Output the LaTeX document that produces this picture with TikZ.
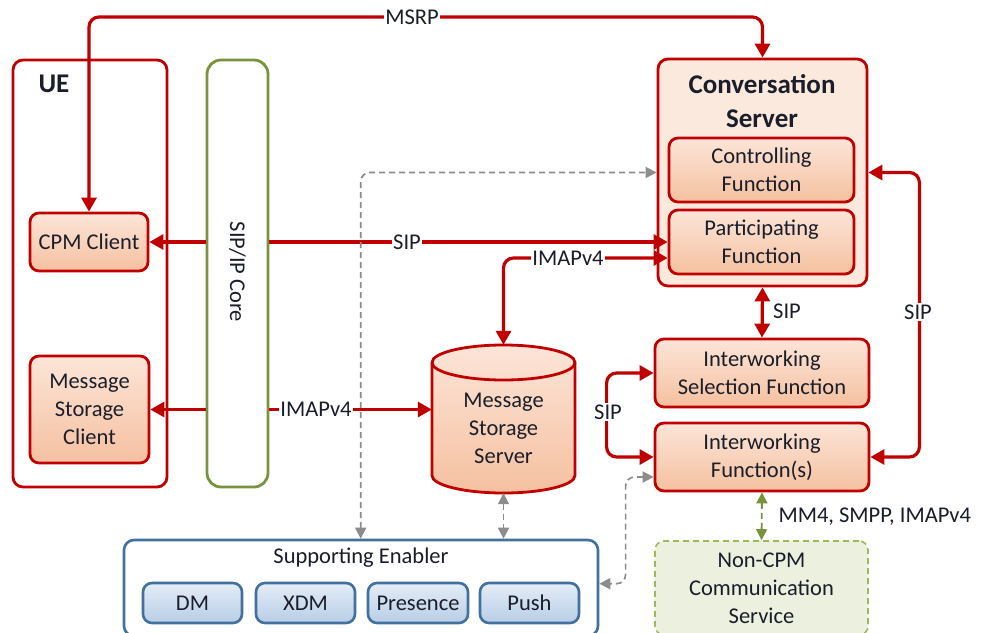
\documentclass[tikz,border=0pt]{standalone}
\usepackage{fontspec}
\setmainfont{Carlito}
\usetikzlibrary{arrows.meta,calc}
\definecolor{cred}{HTML}{C00000}
\definecolor{olivec}{HTML}{77933C}
\definecolor{bluec}{HTML}{41719C}
\definecolor{txt}{HTML}{1A1E2A}
\definecolor{pkTop}{HTML}{FCE5D8}
\definecolor{pkBot}{HTML}{F5C0A0}
\definecolor{convf}{HTML}{FCE9DE}
\definecolor{blTop}{HTML}{E4EDF7}
\definecolor{blBot}{HTML}{B8CDE6}
\definecolor{grnf}{HTML}{EBF1DE}
\definecolor{grnb}{HTML}{9BBB59}
\definecolor{gline}{HTML}{8C8C8C}
\begin{document}
\begin{tikzpicture}[x=1pt,y=-1pt,font=\fontsize{22.5}{28}\selectfont,text=txt,
  redbox/.style={draw=cred,line width=2.8pt,rounded corners=9pt,top color=pkTop,bottom color=pkBot,align=center,inner sep=0pt},
  bluebox/.style={draw=bluec,line width=2.6pt,rounded corners=9pt,top color=blTop,bottom color=blBot,align=center,inner sep=0pt,minimum height=40pt},
  rline/.style={draw=cred,line width=3.2pt,rounded corners=10pt},
  rtip/.tip={Triangle[length=14pt,width=15pt]},
  gtip/.tip={Triangle[length=11pt,width=11pt]},
  gdash/.style={draw=gline,line width=1.7pt,dash pattern=on 6pt off 4pt,rounded corners=9pt},
  grdash/.style={draw=olivec,line width=1.8pt,dash pattern=on 6pt off 4pt},
  lbl/.style={fill=white,inner sep=1.5pt},
  bold/.style={font=\bfseries\fontsize{27}{34}\selectfont,align=center}]
\useasboundingbox (0,0) rectangle (990,632);
\fill[white] (0,0) rectangle (990,632);

% UE
\node[draw=cred,line width=2.8pt,rounded corners=10pt,fill=white,minimum width=154pt,minimum height=427pt,inner sep=0pt] (ue) at (90,273.5) {};
\node[bold,anchor=center] (uelbl) at (54,84) {UE};
\node[redbox,minimum width=118pt,minimum height=58pt] (cpm) at (89,242) {CPM Client};
\node[redbox,minimum width=119pt,minimum height=107pt] (msc) at (89.5,409.5) {Message\\Storage\\Client};

% SIP/IP core
\node[draw=olivec,line width=2.8pt,rounded corners=14pt,fill=white,minimum width=61pt,minimum height=427pt,inner sep=0pt] (core) at (237.5,273.5) {};
\node[rotate=-90] (coretxt) at (237.5,272) {SIP/IP Core};

% Conversation server
\node[draw=cred,line width=2.8pt,rounded corners=10pt,fill=convf,minimum width=209pt,minimum height=227pt,inner sep=0pt] (conv) at (762.5,172.5) {};
\node[bold] (convtitle) at (762,101) {Conversation\\Server};
\node[redbox,minimum width=185pt,minimum height=64pt] (ctrl) at (761.5,170) {Controlling\\Function};
\node[redbox,minimum width=185pt,minimum height=64pt] (part) at (761.5,242) {Participating\\Function};

% Interworking
\node[redbox,minimum width=214pt,minimum height=68pt] (isf) at (762,373) {Interworking\\Selection Function};
\node[redbox,minimum width=214pt,minimum height=68pt] (iwf) at (762,457) {Interworking\\Function(s)};
\node[draw=grnb,line width=1.6pt,dash pattern=on 6pt off 4pt,rounded corners=9pt,fill=grnf,minimum width=213pt,minimum height=94pt,inner sep=0pt,align=center] (noncpm) at (761.5,588) {Non-CPM\\Communication\\Service};

% Message storage server (cylinder)
\node[minimum width=143pt,minimum height=148pt,inner sep=0pt] (mss) at (503.5,419) {};
\path[top color=pkTop,bottom color=pkBot] (432,362.5) -- (432,475.5) arc[start angle=180,end angle=360,x radius=71.5pt,y radius=17.5pt] -- (575,362.5) arc[start angle=0,end angle=180,x radius=71.5pt,y radius=17.5pt] -- cycle;
\draw[cred,line width=2.8pt] (432,362.5) -- (432,475.5) arc[start angle=180,end angle=360,x radius=71.5pt,y radius=17.5pt] -- (575,362.5) arc[start angle=0,end angle=180,x radius=71.5pt,y radius=17.5pt] -- cycle;
\draw[cred,line width=2.8pt] (432,362.5) arc[start angle=180,end angle=360,x radius=71.5pt,y radius=17.5pt];
\node[align=center] (msstxt) at (503.5,428) {Message\\Storage\\Server};

% Supporting enabler
\node[draw=bluec,line width=2.6pt,rounded corners=10pt,fill=white,minimum width=474pt,minimum height=96pt,inner sep=0pt] (se) at (361,588) {};
\node (setxt) at (361,558) {Supporting Enabler};
\node[bluebox,minimum width=99pt] (dm) at (192.5,603) {DM};
\node[bluebox,minimum width=99pt] (xdm) at (305.5,603) {XDM};
\node[bluebox,minimum width=100pt] (pres) at (418,603) {Presence};
\node[bluebox,minimum width=99pt] (push) at (529.5,603) {Push};

% Red connectors
\draw[rline,{rtip}-{rtip}] (cpm.north) -- (cpm.north |- 0,17) -- (conv.north |- 0,17) -- (conv.north);
\node[lbl] (msrp) at (412,17) {MSRP};
\draw[rline,-{rtip}] (core.east |- part.west) -- (part.west);
\draw[rline,-{rtip}] (core.west |- cpm.east) -- (cpm.east);
\node[lbl] (sip1) at (407,242) {SIP};
\draw[rline,-{rtip}] (core.east |- msc.east) -- (mss.west |- msc.east);
\draw[rline,-{rtip}] (core.west |- msc.east) -- (msc.east);
\node[lbl] (imap1) at (316,409) {IMAPv4};
\draw[rline,{rtip}-{rtip}] (mss.north) |- ($(part.west)+(0,16)$);
\node[lbl] (imap2) at (568,258) {IMAPv4};
\draw[rline,{rtip}-{rtip}] (conv.south) -- (isf.north);
\node[anchor=west,inner sep=1pt] (sip2) at (772,311) {SIP};
\draw[rline,{rtip}-{rtip}] (conv.east) -- ++(51,0) |- (iwf.east);
\node[lbl] (sip3) at (918,312) {SIP};
\draw[rline,{rtip}-{rtip}] (isf.west) -- ++(-47,0) |- (iwf.west);
\node[lbl] (sip4) at (608,412) {SIP};

% Gray dashed connectors
\draw[gdash,{gtip}-{gtip}] ($(se.north west)+(238,0)$) |- (conv.west);
\draw[gdash,{gtip}-{gtip}] (mss.south) -- (mss.south |- se.north);
\draw[gdash,{gtip}-{gtip}] ($(iwf.west)+(0,20)$) -- ++(-28,0) |- ($(se.north east)+(0,45)$);

% Green dashed
\draw[grdash,{gtip}-{gtip}] (iwf.south) -- (noncpm.north);
\node[anchor=west] (mm4) at (775,517) {MM4, SMPP, IMAPv4};
\end{tikzpicture}
\end{document}
